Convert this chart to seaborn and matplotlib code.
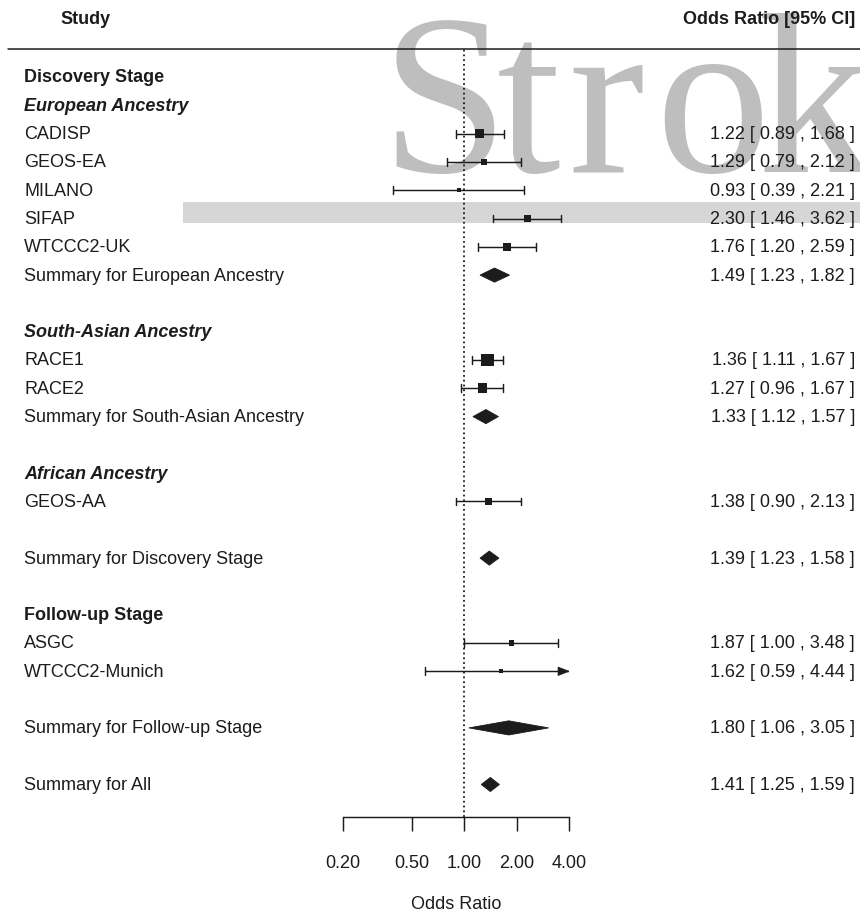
import numpy as np
import pandas as pd
import matplotlib
matplotlib.use("Agg")
import matplotlib.pyplot as plt
import seaborn as sns
from matplotlib.patches import Polygon, Rectangle
from matplotlib.lines import Line2D
from matplotlib.transforms import blended_transform_factory

# ---- data -------------------------------------------------------------
studies = ["CADISP", "GEOS-EA", "MILANO", "SIFAP", "WTCCC2-UK",
           "RACE1", "RACE2", "GEOS-AA", "ASGC", "WTCCC2-Munich"]
study_or = [1.22, 1.29, 0.93, 2.30, 1.76, 1.36, 1.27, 1.38, 1.87, 1.62]
study_lo = [0.89, 0.79, 0.39, 1.46, 1.20, 1.11, 0.96, 0.90, 1.00, 0.59]
study_hi = [1.68, 2.12, 2.21, 3.62, 2.59, 1.67, 1.67, 2.13, 3.48, 4.44]

summaries = ["Summary for European Ancestry", "Summary for South-Asian Ancestry",
             "Summary for Discovery Stage", "Summary for Follow-up Stage",
             "Summary for All"]
summary_or = [1.49, 1.33, 1.39, 1.80, 1.41]
summary_lo = [1.23, 1.12, 1.23, 1.06, 1.25]
summary_hi = [1.82, 1.57, 1.58, 3.05, 1.59]

tick_values = [0.20, 0.50, 1.00, 2.00, 4.00]

# ---- row layout (top to bottom) --------------------------------------
layout = [
    ("bold", "Discovery Stage"),
    ("italic", "European Ancestry"),
    ("study", 0), ("study", 1), ("study", 2), ("study", 3), ("study", 4),
    ("summary", 0),
    ("blank", None),
    ("italic", "South-Asian Ancestry"),
    ("study", 5), ("study", 6),
    ("summary", 1),
    ("blank", None),
    ("italic", "African Ancestry"),
    ("study", 7),
    ("blank", None),
    ("summary", 2),
    ("blank", None),
    ("bold", "Follow-up Stage"),
    ("study", 8), ("study", 9),
    ("blank", None),
    ("summary", 3),
    ("blank", None),
    ("summary", 4),
]

sns.set_theme(style="white")
plt.rcParams["font.family"] = ["Liberation Sans", "DejaVu Sans"]

W, H = 860, 912
fig = plt.figure(figsize=(W / 100, H / 100), dpi=100)
fig.patch.set_facecolor("white")

INK = "#1c1c1c"
FS = 13

# journal logo watermark behind the plot (letter-spaced serif word)
for ch, px in zip("Strok", [381, 497, 568, 655, 758]):
    fig.text(px / W, 1 - 172 / H, ch, fontsize=165, color="#bebebe",
             family=["Liberation Serif", "DejaVu Serif"],
             ha="left", va="baseline", zorder=-2)
fig.add_artist(Rectangle((183 / W, 1 - 224 / H), (W - 183) / W, 21 / H,
                         transform=fig.transFigure, facecolor="#d6d6d6",
                         edgecolor="none", zorder=-2))

# plotting panel
x0, x1 = 343, 569
ytop, ybot = 50, 818
ax = fig.add_axes([x0 / W, 1 - ybot / H, (x1 - x0) / W, (ybot - ytop) / H])
ax.patch.set_visible(False)
ax.set_xscale("log")
ax.set_xlim(0.2, 4.0)
row_px, first_px = 28.3, 78
ax.set_ylim(-(ybot - first_px) / row_px, (first_px - ytop) / row_px)

lab_tr = blended_transform_factory(fig.transFigure, ax.transData)

study_y = {}
summary_y = {}
for i, (kind, val) in enumerate(layout):
    y = -i
    if kind == "bold":
        ax.text(24 / W, y, val, transform=lab_tr, fontsize=FS, fontweight="bold",
                color=INK, va="center", ha="left")
    elif kind == "italic":
        ax.text(24 / W, y, val, transform=lab_tr, fontsize=FS, fontweight="bold",
                fontstyle="italic", color=INK, va="center", ha="left")
    elif kind == "study":
        study_y[val] = y
    elif kind == "summary":
        summary_y[val] = y

# study table
df = pd.DataFrame({"study": studies, "or": study_or, "lo": study_lo, "hi": study_hi})
df["y"] = [study_y[i] for i in range(len(df))]
se = (np.log(df["hi"]) - np.log(df["lo"])) / (2 * 1.96)
w = 1 / se
side = 2.8 + (w - w.min()) / (w.max() - w.min()) * (9.2 - 2.8)
df["area"] = side ** 2

xmax = ax.get_xlim()[1]
cap = 0.14
LW = 1.05
for _, r in df.iterrows():
    hi = min(r["hi"], xmax)
    ax.plot([r["lo"], hi], [r["y"], r["y"]], color=INK, lw=LW, zorder=3,
            solid_capstyle="butt")
    ax.plot([r["lo"], r["lo"]], [r["y"] - cap, r["y"] + cap], color=INK, lw=LW, zorder=3)
    if r["hi"] > xmax:
        base = xmax / 2 ** (11 / 52.5)
        ax.add_patch(Polygon([(base, r["y"] - 0.15), (xmax, r["y"]), (base, r["y"] + 0.15)],
                             closed=True, facecolor=INK, edgecolor=INK, lw=0.5,
                             zorder=3, clip_on=False))
    else:
        ax.plot([hi, hi], [r["y"] - cap, r["y"] + cap], color=INK, lw=LW, zorder=3)
    ax.text(24 / W, r["y"], r["study"], transform=lab_tr, fontsize=FS,
            color=INK, va="center", ha="left")
    ax.text(855 / W, r["y"], f"{r['or']:.2f} [ {r['lo']:.2f} , {r['hi']:.2f} ]",
            transform=lab_tr, fontsize=FS, color=INK, va="center", ha="right")

sns.scatterplot(data=df, x="or", y="y", size="area",
                sizes=(df["area"].min(), df["area"].max()),
                marker="s", color=INK, linewidth=0, legend=False, ax=ax, zorder=4)

# summary diamonds
sm = pd.DataFrame({"label": summaries, "or": summary_or, "lo": summary_lo, "hi": summary_hi})
sm["y"] = [summary_y[i] for i in range(len(sm))]
dh = 0.25
for _, r in sm.iterrows():
    y = r["y"]
    ax.add_patch(Polygon([(r["lo"], y), (r["or"], y + dh), (r["hi"], y), (r["or"], y - dh)],
                         closed=True, facecolor=INK, edgecolor=INK, lw=0.6, zorder=4))
    ax.text(24 / W, y, r["label"], transform=lab_tr, fontsize=FS,
            color=INK, va="center", ha="left")
    ax.text(855 / W, y, f"{r['or']:.2f} [ {r['lo']:.2f} , {r['hi']:.2f} ]",
            transform=lab_tr, fontsize=FS, color=INK, va="center", ha="right")

# reference line at OR = 1
ylo, yhi = ax.get_ylim()
ax.plot([1, 1], [ylo, yhi], color=INK, lw=1.3, linestyle=":", zorder=2, clip_on=False)

# header and rule
fig.text(60 / W, 1 - 20 / H, "Study", fontsize=FS, fontweight="bold", color=INK,
         ha="left", va="center")
fig.text(855 / W, 1 - 20 / H, "Odds Ratio [95% CI]", fontsize=FS, fontweight="bold",
         color=INK, ha="right", va="center")
fig.add_artist(Line2D([8 / W, 1], [1 - 50 / H, 1 - 50 / H], transform=fig.transFigure,
                      color=INK, lw=1.1))

# x axis
for s in ["top", "left", "right"]:
    ax.spines[s].set_visible(False)
ax.spines["bottom"].set_color(INK)
ax.spines["bottom"].set_linewidth(1.05)
ax.set_yticks([])
ax.set_xticks(tick_values)
ax.set_xticklabels([f"{t:.2f}" for t in tick_values])
ax.xaxis.set_minor_locator(matplotlib.ticker.NullLocator())
ax.tick_params(axis="x", direction="out", length=10, width=1.05, color=INK,
               labelsize=FS, labelcolor=INK, pad=17, bottom=True)
ax.set_xlabel("Odds Ratio", fontsize=FS, color=INK, labelpad=17)
ax.set_ylabel("")

fig.savefig("out.png", dpi=100, facecolor="white")
